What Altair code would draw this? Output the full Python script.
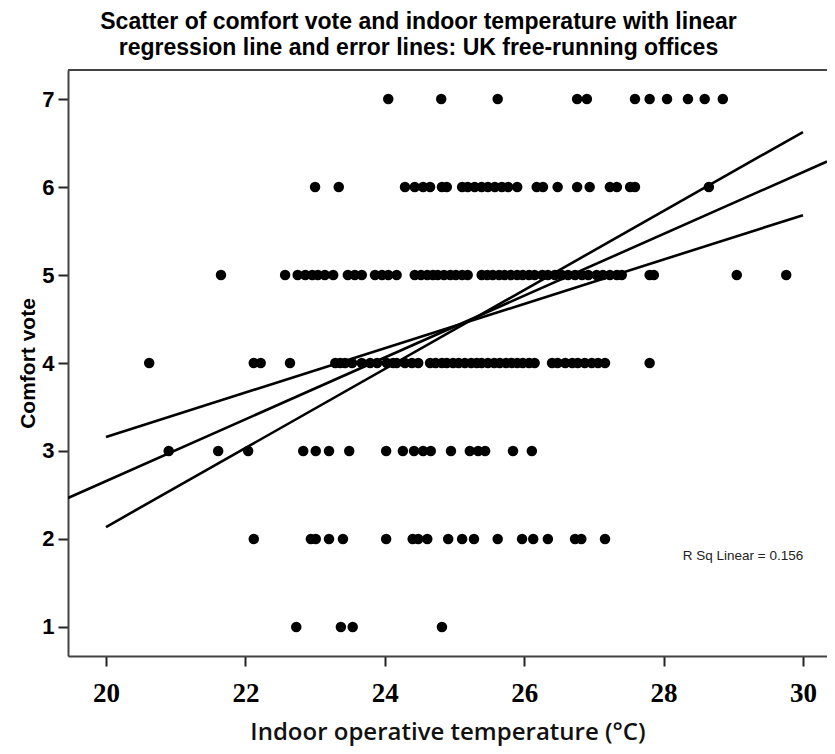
import altair as alt
import pandas as pd

# ---- data ----
vote_levels = [7, 6, 5, 4, 3, 2, 1]
temps_vote7 = [24.05, 24.81, 25.62, 26.76, 26.90, 27.59, 27.80, 28.05, 28.35, 28.59, 28.85]
temps_vote6 = [23.00, 23.34, 24.29, 24.43, 24.55, 24.65, 24.82, 24.89, 25.11, 25.19, 25.29,
               25.39, 25.48, 25.58, 25.68, 25.77, 25.90, 26.18, 26.27, 26.48, 26.76, 26.94,
               27.23, 27.33, 27.52, 27.59, 28.65]
temps_vote5 = [21.65, 22.57, 22.75, 22.86, 22.96, 23.04, 23.14, 23.26, 23.47, 23.57, 23.67,
               23.86, 23.96, 24.05, 24.17, 24.43, 24.52, 24.61, 24.69, 24.76, 24.85, 24.94,
               25.02, 25.11, 25.19, 25.39, 25.47, 25.55, 25.64, 25.72, 25.81, 25.90, 25.98,
               26.07, 26.15, 26.26, 26.34, 26.44, 26.54, 26.63, 26.73, 26.83, 26.92, 27.04,
               27.13, 27.23, 27.33, 27.40, 27.80, 27.86, 29.05, 29.76]
temps_vote4 = [20.62, 22.12, 22.22, 22.64, 23.29, 23.36, 23.43, 23.53, 23.67, 23.79, 23.89,
               24.03, 24.12, 24.17, 24.29, 24.39, 24.48, 24.65, 24.73, 24.82, 24.89, 24.98,
               25.06, 25.15, 25.24, 25.32, 25.39, 25.48, 25.57, 25.65, 25.74, 25.82, 25.90,
               25.98, 26.07, 26.15, 26.40, 26.48, 26.59, 26.69, 26.77, 26.87, 26.97, 27.06,
               27.16, 27.80]
temps_vote3 = [20.90, 21.61, 22.04, 22.83, 23.01, 23.20, 23.49, 24.02, 24.26, 24.42, 24.55,
               24.66, 24.95, 25.22, 25.34, 25.44, 25.84, 26.11]
temps_vote2 = [22.12, 22.94, 23.01, 23.20, 23.40, 24.02, 24.40, 24.48, 24.61, 24.91, 25.11,
               25.28, 25.62, 25.97, 26.13, 26.34, 26.73, 26.82, 27.16]
temps_vote1 = [22.73, 23.37, 23.54, 24.82]

# regression line and the two error lines (end points)
fit_x = [19.455, 30.345]
fit_y = [2.466, 6.29]
err_a_x = [20, 30]
err_a_y = [3.16, 5.68]
err_b_x = [20, 30]
err_b_y = [2.136, 6.625]

x_ticks = [20, 22, 24, 26, 28, 30]
y_ticks = [1, 2, 3, 4, 5, 6, 7]
x_domain = [19.455, 30.345]
y_domain = [0.67, 7.33]

annotation = "R Sq Linear = 0.156"
annotation_x = [29.14]
annotation_y = [1.81]

# ---- build tables ----
rows = []
for v, temps in zip(vote_levels, [temps_vote7, temps_vote6, temps_vote5, temps_vote4,
                                  temps_vote3, temps_vote2, temps_vote1]):
    for t in temps:
        rows.append({"temp": t, "vote": v})
points = pd.DataFrame(rows)

lines = pd.DataFrame(
    [{"temp": x, "vote": y, "line": "fit"} for x, y in zip(fit_x, fit_y)]
    + [{"temp": x, "vote": y, "line": "err_a"} for x, y in zip(err_a_x, err_a_y)]
    + [{"temp": x, "vote": y, "line": "err_b"} for x, y in zip(err_b_x, err_b_y)]
)
ann = pd.DataFrame({"temp": annotation_x, "vote": annotation_y, "label": [annotation]})

xscale = alt.Scale(domain=x_domain, nice=False, zero=False)
yscale = alt.Scale(domain=y_domain, nice=False, zero=False)

xaxis = alt.Axis(values=x_ticks, format="d", title="Indoor operative temperature (°C)", grid=False,
                 tickSize=10, tickWidth=2, tickColor="#222", domainColor="#444", domainWidth=2,
                 labelFont="Liberation Serif", labelFontWeight="bold", labelFontSize=27,
                 labelColor="black", labelPadding=14,
                 titleFont="Open Sans", titleFontSize=24, titleFontWeight=600, titleColor="#111",
                 titleBaseline="alphabetic", titleY=83)
yaxis = alt.Axis(values=y_ticks, format="d", title="Comfort vote", grid=False,
                 tickSize=10, tickWidth=2, tickColor="#222", domainColor="#444", domainWidth=2,
                 labelFont="Liberation Sans", labelFontWeight="bold", labelFontSize=22,
                 labelColor="black", labelPadding=4,
                 titleFont="Liberation Sans", titleFontSize=21, titleFontWeight="bold",
                 titleColor="black", titleX=-40, titleY=293, titleAlign="center",
                 titleBaseline="middle", titleAngle=-90)

X = alt.X("temp:Q", scale=xscale, axis=xaxis)
Y = alt.Y("vote:Q", scale=yscale, axis=yaxis)

pts = alt.Chart(points).mark_circle(size=110, color="black", opacity=1).encode(x=X, y=Y)
lns = alt.Chart(lines).mark_line(color="black", strokeWidth=2.6, clip=True).encode(
    x=X, y=Y, detail="line:N",
)
txt = alt.Chart(ann).mark_text(font="Liberation Sans", fontSize=13.5, color="#222").encode(
    x=X, y=Y, text="label:N",
)
top_border = alt.Chart(ann).mark_rule(color="#444", strokeWidth=2).encode(
    x=alt.value(0), x2=alt.value(759), y=alt.value(0)
)

chart = alt.layer(pts, lns, txt, top_border).properties(
    width=759,
    height=586,
    title=alt.TitleParams(
        text=["Scatter of comfort vote and indoor temperature with linear",
              "regression line and error lines: UK free-running offices"],
        font="Liberation Sans", fontSize=23, fontWeight="bold", color="black",
        lineHeight=26, anchor="middle", frame="group", dx=-29, offset=9,
    ),
    autosize=alt.AutoSizeParams(type="none"),
    padding={"left": 60, "top": 62, "right": 0, "bottom": 90},
).configure_view(stroke=None).configure(background="white")

chart.save("out.html", embed_options={"renderer": "svg", "actions": False})
